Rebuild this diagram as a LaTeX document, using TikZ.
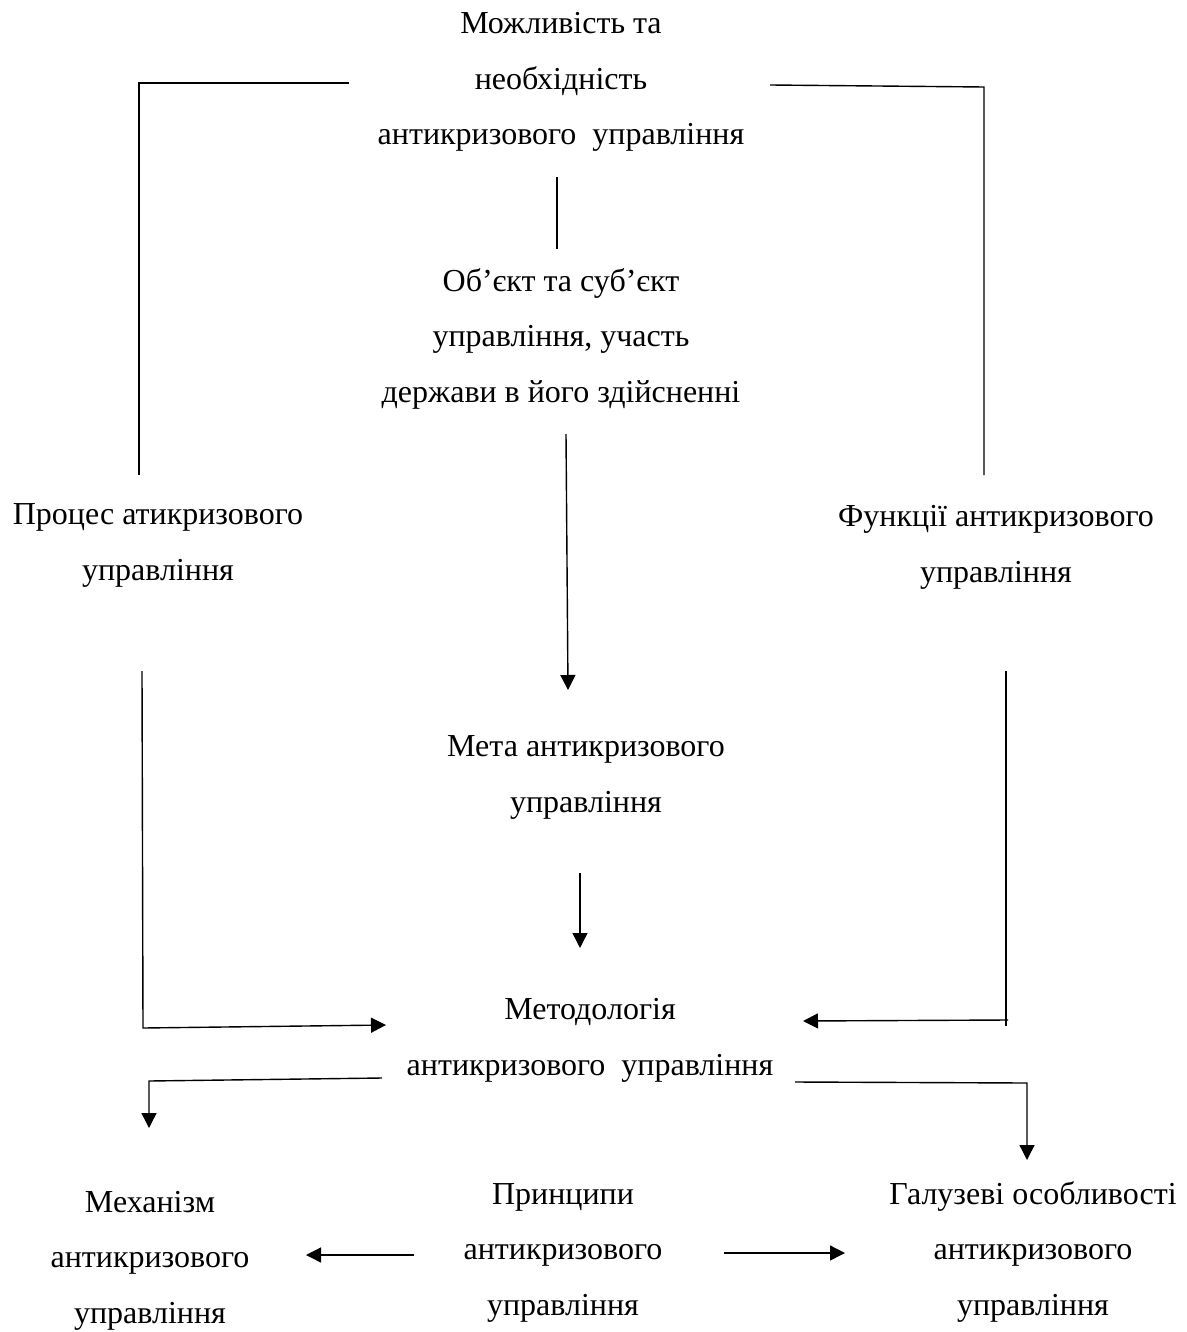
\documentclass[tikz,border=0pt]{standalone}
\usepackage{fontspec}
\setmainfont{Liberation Serif}
\usetikzlibrary{arrows.meta}
\begin{document}
\begin{tikzpicture}[x=0.5pt,y=-0.5pt,
  txt/.style={align=center,inner sep=0pt,anchor=base,font=\fontsize{16}{27.75}\selectfont},
  ln/.style={line width=0.7pt},
  arr/.style={line width=0.7pt,-{Triangle[length=7.5pt,width=7.5pt]}}]
\useasboundingbox (0,0) rectangle (1187,1332);
% anchor=base is the baseline of the last line
\node[txt] (top) at (561,145) {Можливість та\\необхідність\\антикризового\ \ управління};
\node[txt] (obj) at (561,402) {Об’єкт та суб’єкт\\управління, участь\\держави в його здійсненні};
\node[txt] (proc) at (158,580) {Процес атикризового\\управління};
\node[txt] (func) at (996,582) {Функції антикризового\\управління};
\node[txt] (meta) at (586,812) {Мета антикризового\\управління};
\node[txt] (meth) at (590,1075) {Методологія\\антикризового\ \ управління};
\node[txt] (mech) at (150,1323) {Механізм\\антикризового\\управління};
\node[txt] (princ) at (563,1315) {Принципи\\антикризового\\управління};
\node[txt] (gal) at (1033,1315) {Галузеві особливості\\антикризового\\управління};
% endpoints
\coordinate (a1) at (349,83); \coordinate (a2) at (139,83); \coordinate (a3) at (139,475);
\coordinate (b1) at (770,85); \coordinate (b2) at (984,87); \coordinate (b3) at (984,475);
\coordinate (c1) at (557,177); \coordinate (c2) at (557,249);
\coordinate (d1) at (566,434); \coordinate (d2) at (568,690);
\coordinate (e1) at (142,671); \coordinate (e2) at (143,1028); \coordinate (e3) at (386,1025);
\coordinate (f1) at (1006,671); \coordinate (f2) at (1006,1026);
\coordinate (g1) at (1008,1020); \coordinate (g2) at (803,1021);
\coordinate (h1) at (580,873); \coordinate (h2) at (580,948);
\coordinate (i1) at (382,1078); \coordinate (i2) at (149,1081); \coordinate (i3) at (149,1128);
\coordinate (j1) at (795,1082); \coordinate (j2) at (1027,1083); \coordinate (j3) at (1027,1160);
\coordinate (k1) at (414,1255); \coordinate (k2) at (306,1255);
\coordinate (l1) at (724,1253); \coordinate (l2) at (845,1253);
\draw[ln] (a1) -- (a2) -- (a3);
\draw[ln] (b1) -- (b2) -- (b3);
\draw[ln] (c1) -- (c2);
\draw[arr] (d1) -- (d2);
\draw[arr] (e1) -- (e2) -- (e3);
\draw[ln] (f1) -- (f2);
\draw[arr] (g1) -- (g2);
\draw[arr] (h1) -- (h2);
\draw[arr] (i1) -- (i2) -- (i3);
\draw[arr] (j1) -- (j2) -- (j3);
\draw[arr] (k1) -- (k2);
\draw[arr] (l1) -- (l2);
\end{tikzpicture}
\end{document}
